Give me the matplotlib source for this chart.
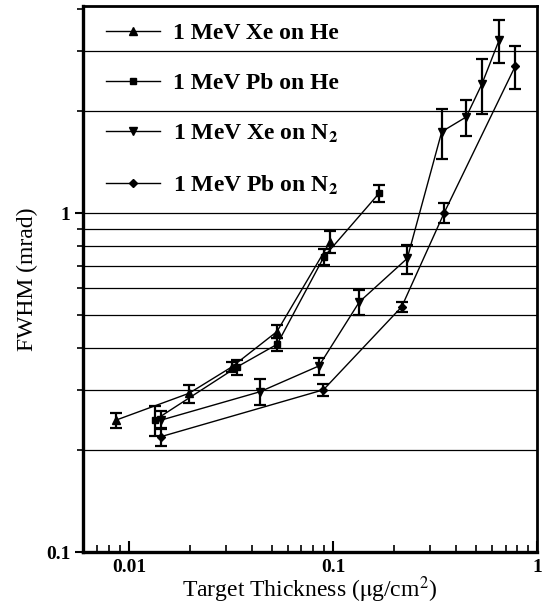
import numpy as np
import matplotlib
matplotlib.use("Agg")
import matplotlib.pyplot as plt

plt.rcParams['font.family'] = ['Liberation Serif', 'DejaVu Serif']
plt.rcParams['mathtext.fontset'] = 'stix'

# 1 MeV Xe on He (up triangles)
xe_he_x = [0.00864, 0.0197, 0.032, 0.0531, 0.0967]
xe_he_y = [0.245, 0.294, 0.352, 0.447, 0.823]
xe_he_err = [0.012, 0.018, 0.012, 0.019, 0.06]

# 1 MeV Pb on He (squares)
pb_he_x = [0.0134, 0.0337, 0.0532, 0.0903, 0.168]
pb_he_y = [0.245, 0.351, 0.410, 0.743, 1.143]
pb_he_err = [0.025, 0.017, 0.018, 0.038, 0.065]

# 1 MeV Xe on N2 (down triangles)
xe_n2_x = [0.01436, 0.0438, 0.0853, 0.1346, 0.231, 0.341, 0.449, 0.536, 0.653]
xe_n2_y = [0.245, 0.297, 0.354, 0.547, 0.735, 1.738, 1.92, 2.40, 3.25]
xe_n2_err = [0.015, 0.026, 0.02, 0.047, 0.072, 0.29, 0.23, 0.44, 0.47]

# 1 MeV Pb on N2 (diamonds)
pb_n2_x = [0.01436, 0.0897, 0.217, 0.350, 0.783]
pb_n2_y = [0.219, 0.301, 0.529, 1.0, 2.72]
pb_n2_err = [0.0136, 0.013, 0.018, 0.068, 0.4]

grid_levels = [0.2, 0.3, 0.4, 0.5, 0.6, 0.7, 0.8, 0.9, 1, 2, 3]

fig = plt.figure(figsize=(5.42, 6.04), dpi=100)
ax = fig.add_axes([0.153, 0.086, 0.838, 0.904])

for g in grid_levels:
    ax.axhline(g, color='black', linewidth=0.9, zorder=1)

series = [
    (xe_he_x, xe_he_y, xe_he_err, '^', 5.5, '1 MeV Xe on He'),
    (pb_he_x, pb_he_y, pb_he_err, 's', 4.5, '1 MeV Pb on He'),
    (xe_n2_x, xe_n2_y, xe_n2_err, 'v', 5.5, r'1 MeV Xe on N$_\mathbf{2}$'),
    (pb_n2_x, pb_n2_y, pb_n2_err, 'D', 4.5, r'1 MeV Pb on N$_\mathbf{2}$'),
]
for x, y, e, m, ms, lab in series:
    ax.errorbar(x, y, yerr=e, fmt='none', ecolor='black', elinewidth=1.6,
                capsize=4, capthick=1.6, zorder=3)
    ax.plot(x, y, color='black', linewidth=1.0, marker=m, markersize=ms,
            label=lab, zorder=4)

ax.set_xscale('log')
ax.set_yscale('log')
ax.set_xlim(0.00595, 1)
ax.set_ylim(0.1, 4.08)

ax.set_xticks([0.01, 0.1, 1])
ax.set_xticklabels(['0.01', '0.1', '1'], fontweight='bold', fontsize=14)
ax.set_yticks([0.1, 1])
ax.set_yticklabels(['0.1', '1'], fontweight='bold', fontsize=14)
ax.yaxis.set_minor_formatter(matplotlib.ticker.NullFormatter())
ax.xaxis.set_minor_formatter(matplotlib.ticker.NullFormatter())

ax.tick_params(axis='x', which='major', direction='in', length=8, width=1.5, pad=5)
ax.tick_params(axis='x', which='minor', direction='in', length=5, width=1.2)
ax.tick_params(axis='y', which='major', direction='out', length=6, width=1.5, pad=3)
ax.tick_params(axis='y', which='minor', direction='out', length=4, width=1.2)

for s in ['left', 'bottom']:
    ax.spines[s].set_linewidth(2.4)
for s in ['top', 'right']:
    ax.spines[s].set_linewidth(2.0)

ax.set_xlabel(r'Target Thickness ($\mathrm{\mu}$g/cm$^2$)', fontsize=17, labelpad=-1)
ax.set_ylabel('FWHM (mrad)', fontsize=17, labelpad=6)

ax.legend(loc='upper left', frameon=False, prop={'weight': 'bold', 'size': 17},
          handlelength=2.3, handletextpad=0.55, labelspacing=1.2,
          borderaxespad=0.2, bbox_to_anchor=(0.02, 0.995))

fig.savefig('out.png', dpi=100)
